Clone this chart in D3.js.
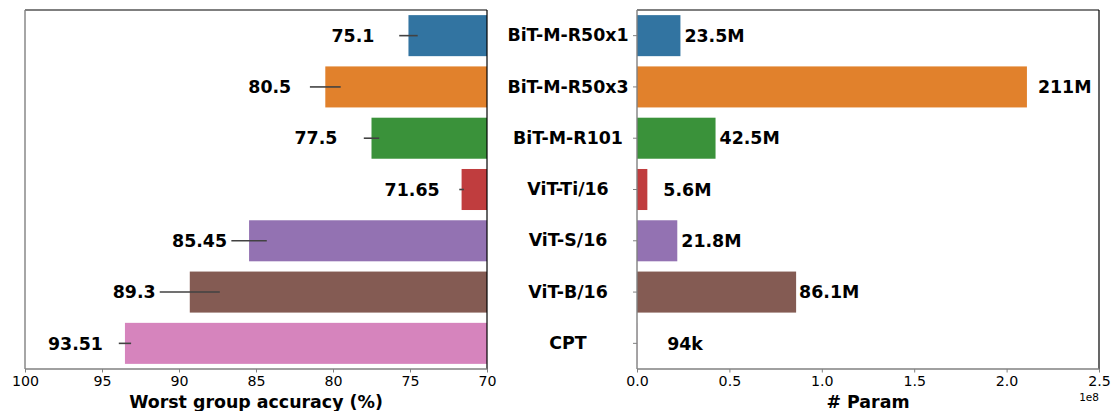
<!DOCTYPE html>
<html>
<head>
<meta charset="utf-8">
<script src="https://cdn.jsdelivr.net/npm/d3@7"></script>
<style>
  body { margin: 0; background: #fff; }
  text { font-family: "DejaVu Sans", sans-serif; }
</style>
</head>
<body>
<div id="chart"></div>
<script>
// Data
const models = ["BiT-M-R50x1", "BiT-M-R50x3", "BiT-M-R101", "ViT-Ti/16", "ViT-S/16", "ViT-B/16", "CPT"];
const worstAcc = [75.1, 80.5, 77.5, 71.65, 85.45, 89.3, 93.51];
const accErr = [0.6, 1.0, 0.5, 0.15, 1.15, 1.95, 0.4];
const accLabels = ["75.1", "80.5", "77.5", "71.65", "85.45", "89.3", "93.51"];
const params = [23.5e6, 211e6, 42.5e6, 5.6e6, 21.8e6, 86.1e6, 94e3];
const paramLabels = ["23.5M", "211M", "42.5M", "5.6M", "21.8M", "86.1M", "94k"];
const accTicks = [100, 95, 90, 85, 80, 75, 70];
const paramTicks = [0, 0.5e8, 1e8, 1.5e8, 2e8, 2.5e8];

const colors = ["#3274a1", "#e1812c", "#3a923a", "#c03d3e", "#9372b2", "#845b53", "#d684bd"];
// label gap after each param bar (px), set by hand in the original
const paramLabelGap = [4, 11, 4, 16, 4, 3, 30];

const W = 1112, H = 411;
const plotTop = 10, plotBottom = 369;
const left1 = 25, right1 = 487;
const left2 = 637, right2 = 1099;
const bigFont = "17.4px";

let svg = d3.select("#chart").append("svg").attr("width", W).attr("height", H);

let y = d3.scaleBand().domain(models).range([plotTop, plotBottom]).paddingInner(0.2).paddingOuter(0.1);

// ---------- left panel: worst group accuracy ----------
let x1 = d3.scaleLinear().domain([100, 70]).range([left1, right1]);

let rows1 = models.map((m, i) => ({ m, v: worstAcc[i], e: accErr[i], lab: accLabels[i], c: colors[i] }));

svg.append("g")
  .selectAll("rect")
  .data(rows1)
  .enter()
  .append("rect")
  .attr("x", (d) => x1(d.v))
  .attr("y", (d) => y(d.m))
  .attr("width", (d) => x1(70) - x1(d.v))
  .attr("height", y.bandwidth())
  .attr("fill", (d) => d.c);

// error bars
svg.append("g")
  .selectAll("line")
  .data(rows1)
  .enter()
  .append("line")
  .attr("x1", (d) => x1(d.v + d.e))
  .attr("x2", (d) => x1(d.v - d.e))
  .attr("y1", (d) => y(d.m) + y.bandwidth() / 2)
  .attr("y2", (d) => y(d.m) + y.bandwidth() / 2)
  .attr("stroke", "#424242")
  .attr("stroke-width", 1.6);

// value labels, left aligned at value + 5
svg.append("g")
  .selectAll("text")
  .data(rows1)
  .enter()
  .append("text")
  .attr("x", (d) => x1(d.v + 5))
  .attr("y", (d) => y(d.m) + y.bandwidth() / 2)
  .attr("dy", "0.36em")
  .style("font-size", bigFont)
  .style("font-weight", "bold")
  .text((d) => d.lab);

let ax1 = svg.append("g")
  .attr("transform", `translate(0,${plotBottom})`)
  .call(d3.axisBottom(x1).tickValues(accTicks).tickFormat(d3.format("d")).tickSize(3.5).tickPadding(3.5));
ax1.select(".domain").remove();
ax1.selectAll(".tick line").attr("stroke", "#808080");
ax1.selectAll(".tick text").style("font-size", "14.2px").attr("fill", "#000");

svg.append("text")
  .attr("x", (left1 + right1) / 2)
  .attr("y", 408)
  .attr("text-anchor", "middle")
  .style("font-size", bigFont)
  .style("font-weight", "bold")
  .text("Worst group accuracy (%)");

// ---------- right panel: # params ----------
let x2 = d3.scaleLinear().domain([0, 2.5e8]).range([left2, right2]);

let rows2 = models.map((m, i) => ({ m, v: params[i], lab: paramLabels[i], gap: paramLabelGap[i], c: colors[i] }));

svg.append("g")
  .selectAll("rect")
  .data(rows2)
  .enter()
  .append("rect")
  .attr("x", x2(0))
  .attr("y", (d) => y(d.m))
  .attr("width", (d) => x2(d.v) - x2(0))
  .attr("height", y.bandwidth())
  .attr("fill", (d) => d.c);

svg.append("g")
  .selectAll("text")
  .data(rows2)
  .enter()
  .append("text")
  .attr("x", (d) => x2(d.v) + d.gap)
  .attr("y", (d) => y(d.m) + y.bandwidth() / 2)
  .attr("dy", "0.36em")
  .style("font-size", bigFont)
  .style("font-weight", "bold")
  .text((d) => d.lab);

let ax2 = svg.append("g")
  .attr("transform", `translate(0,${plotBottom})`)
  .call(d3.axisBottom(x2).tickValues(paramTicks).tickFormat((d) => (d / 1e8).toFixed(1)).tickSize(3.5).tickPadding(3.5));
ax2.select(".domain").remove();
ax2.selectAll(".tick line").attr("stroke", "#808080");
ax2.selectAll(".tick text").style("font-size", "14.2px").attr("fill", "#000");

let ay2 = svg.append("g")
  .attr("transform", `translate(${left2},0)`)
  .call(d3.axisLeft(y).tickSize(4).tickPadding(0));
ay2.select(".domain").remove();
ay2.selectAll(".tick line").attr("stroke", "#808080");
ay2.selectAll(".tick text")
  .attr("x", 568 - left2)
  .attr("text-anchor", "middle")
  .attr("fill", "#000")
  .style("font-size", bigFont)
  .style("font-weight", "bold");

svg.append("text")
  .attr("x", right2)
  .attr("y", 401)
  .attr("text-anchor", "end")
  .style("font-size", "10.5px")
  .text("1e8");

svg.append("text")
  .attr("x", (left2 + right2) / 2)
  .attr("y", 408)
  .attr("text-anchor", "middle")
  .style("font-size", bigFont)
  .style("font-weight", "bold")
  .text("# Param");

// ---------- spines ----------
[[left1, right1], [left2, right2]].forEach(([l, r]) => {
  svg.append("line").attr("x1", l).attr("x2", r).attr("y1", plotTop).attr("y2", plotTop).attr("stroke", "#000").attr("stroke-width", 1.2);
  svg.append("line").attr("x1", r).attr("x2", r).attr("y1", plotTop).attr("y2", plotBottom).attr("stroke", "#000").attr("stroke-width", 1.2);
  svg.append("line").attr("x1", l).attr("x2", l).attr("y1", plotTop).attr("y2", plotBottom).attr("stroke", "#808080").attr("stroke-width", 1.4);
  svg.append("line").attr("x1", l).attr("x2", r).attr("y1", plotBottom).attr("y2", plotBottom).attr("stroke", "#808080").attr("stroke-width", 1.4);
});
</script>
</body>
</html>
